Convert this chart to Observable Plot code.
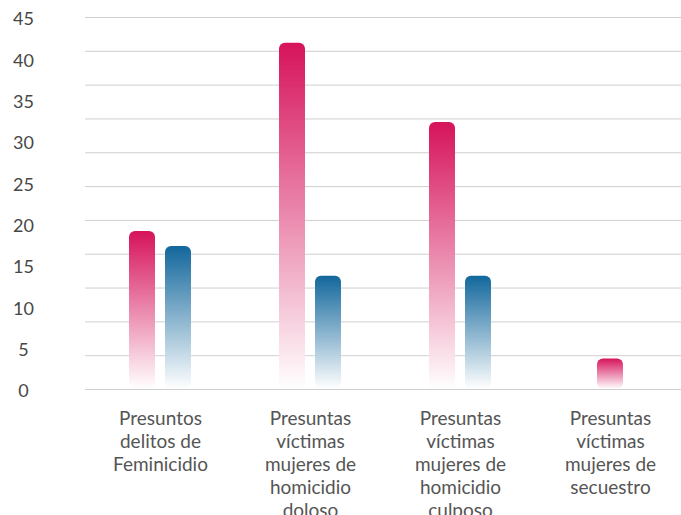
<!DOCTYPE html>
<html>
<head>
<meta charset="utf-8">
<script src="https://cdn.jsdelivr.net/npm/d3@7"></script>
<script src="https://cdn.jsdelivr.net/npm/@observablehq/plot@0.6"></script>
<style>
  html, body { margin: 0; padding: 0; background: #fff; }
  #chart svg { display: block; overflow: hidden; }
</style>
</head>
<body>
<div id="chart"></div>
<script>
// ---- data ----
const categories = [
  "Presuntos\ndelitos de\nFeminicidio",
  "Presuntas\nvíctimas\nmujeres de\nhomicidio\ndoloso",
  "Presuntas\nvíctimas\nmujeres de\nhomicidio\nculposo",
  "Presuntas\nvíctimas\nmujeres de\nsecuestro"
];
const series = ["Serie 1", "Serie 2"];
const valuesSerie1 = [19.1, 41.9, 32.3, 3.7];
const valuesSerie2 = [17.3, 13.7, 13.7, null];
const yTickLabels = [0, 5, 10, 15, 20, 25, 30, 35, 40, 45];
const yMax = 45;
const gridLineCount = 12;

const colors = {"Serie 1": "#d6135b", "Serie 2": "#12679c"};
const gradId = {"Serie 1": "grad-s1", "Serie 2": "grad-s2"};

// ---- build table ----
const rows = [];
categories.forEach((c, i) => {
  [valuesSerie1[i], valuesSerie2[i]].forEach((v, j) => {
    if (v != null) rows.push({category: c, series: series[j], value: v});
  });
});
const countBy = d3.rollup(rows, v => v.length, d => d.category);
rows.forEach(d => d.solo = countBy.get(d.category) === 1);
const gridValues = d3.range(gridLineCount).map(i => i * yMax / (gridLineCount - 1));

const defs = () => {
  const g = d3.create("svg:defs");
  for (const s of series) {
    const lg = g.append("linearGradient").attr("id", gradId[s])
      .attr("x1", 0).attr("y1", 0).attr("x2", 0).attr("y2", 1);
    lg.append("stop").attr("offset", "0%").attr("stop-color", colors[s]);
    lg.append("stop").attr("offset", "100%").attr("stop-color", "#ffffff");
  }
  return g.node();
};

const chart = Plot.plot({
  width: 681,
  height: 515,
  marginLeft: 85,
  marginRight: -4,
  marginTop: 17,
  marginBottom: 126,
  style: {fontFamily: "Lato, 'Open Sans', sans-serif", fontSize: "19px", color: "#555", background: "#fff"},
  fx: {domain: categories, padding: 0, axis: null},
  x: {domain: series, paddingInner: 0.278, paddingOuter: 1.222, axis: null},
  y: {domain: [0, yMax], axis: null},
  marks: [
    defs,
    Plot.ruleY(gridValues, {stroke: "#cfcfcf", strokeWidth: 1}),
    Plot.barY(rows.filter(d => !d.solo), {
      fx: "category", x: "series", y: "value",
      fill: d => `url(#${gradId[d.series]})`, rx: 6
    }),
    Plot.barY(rows.filter(d => d.solo), {
      fx: "category", x: "series", y: "value", dx: 18,
      fill: d => `url(#${gradId[d.series]})`, rx: 6
    }),
    Plot.axisY(yTickLabels, {
      tickSize: 0, tickPadding: 62, textAnchor: "middle", dy: 2,
      fontSize: 18, fill: "#474747", label: null
    }),
    Plot.axisFx({
      anchor: "bottom", tickSize: 0, tickPadding: 19,
      fontSize: 19, lineHeight: 1.21, fill: "#555", label: null
    })
  ]
});
document.getElementById("chart").appendChild(chart);
</script>
</body>
</html>
